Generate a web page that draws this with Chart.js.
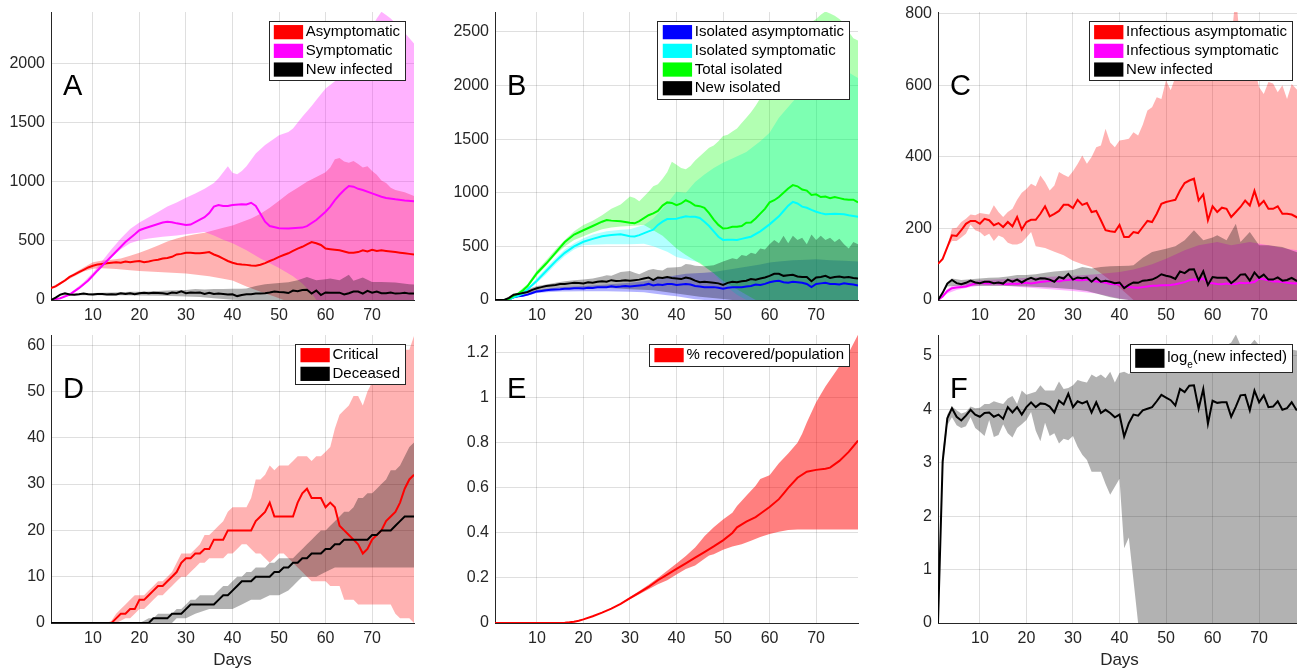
<!DOCTYPE html>
<html>
<head>
<meta charset="utf-8">
<script src="https://cdn.jsdelivr.net/npm/chart.js@4.4.1/dist/chart.umd.min.js"></script>
<style>
  html, body { margin: 0; padding: 0; background: #fff; }
  #fig { position: relative; width: 1297px; height: 671px; overflow: hidden; }
  #fig canvas { position: absolute; }
</style>
</head>
<body>
<div id="fig">
  <canvas id="pA"></canvas>
  <canvas id="pB"></canvas>
  <canvas id="pC"></canvas>
  <canvas id="pD"></canvas>
  <canvas id="pE"></canvas>
  <canvas id="pF"></canvas>
</div>
<script>
//Axis ticks
var dayTicks = [10, 20, 30, 40, 50, 60, 70];
var aYTicks = [0, 500, 1000, 1500, 2000];
var bYTicks = [0, 500, 1000, 1500, 2000, 2500];
var cYTicks = [0, 200, 400, 600, 800];
var dYTicks = [0, 10, 20, 30, 40, 50, 60];
var eYTicks = [0, 0.2, 0.4, 0.6, 0.8, 1, 1.2];
var fYTicks = [0, 1, 2, 3, 4, 5];

//Legend labels
var aLabels = ['Asymptomatic', 'Symptomatic', 'New infected'];
var bLabels = ['Isolated asymptomatic', 'Isolated symptomatic', 'Total isolated', 'New isolated'];
var cLabels = ['Infectious asymptomatic', 'Infectious symptomatic', 'New infected'];
var dLabels = ['Critical', 'Deceased'];
var eLabels = ['% recovered/population'];
var fLabels = ['log_e(new infected)'];

//New infected per day (used in A and C)
var newInfected = [0,20,46,56,47,44,48,54,49,47,51,51,47,49,46,57,51,57,49,57,62,57,61,60,57,51,64,60,73,57,63,61,63,51,62,51,54,51,47,49,33,42,49,48,54,55,57,63,72,68,65,59,80,75,85,86,55,80,42,64,62,62,62,47,57,71,72,54,77,62,71,57,57,63,54,56,62,54,55];
var newUp = [[1,0],[2,25],[3,50],[4,60],[6,56],[8,58],[10,60],[12,62],[14,63],[16,66],[18,70],[20,70],[22,72],[24,76],[26,80],[28,82],[30,84],[32,92],[34,88],[36,92],[38,94],[40,95],[42,96],[43,97],[45,118],[47,134],[50,143],[52,150],[54,167],[56,195],[58,167],[60,175],[61,181],[63,167],[65,213],[66,162],[68,190],[70,153],[72,153],[75,148],[78,134],[79,130]];
var newLo = [[1,0],[3,38],[5,40],[10,40],[15,40],[20,38],[25,35],[30,30],[33,25],[36,15],[38,8],[40,3],[42,0],[79,0]];

//Panel A
var aRed = [100,115,140,165,195,215,235,255,275,290,300,305,310,315,320,315,325,320,325,330,320,325,335,340,350,355,365,385,390,400,400,395,395,400,405,385,370,350,330,315,305,300,297,292,290,298,312,330,345,365,380,395,415,435,450,470,490,480,465,435,430,425,420,410,400,400,405,420,410,425,415,420,415,410,405,400,395,390,385];
var aRedUp = [[1,107],[3,150],[5,205],[8,275],[10,320],[12,335],[14,340],[16,350],[18,375],[20,400],[22,430],[24,460],[26,495],[28,520],[30,541],[32,555],[34,568],[36,590],[38,610],[40,630],[42,660],[44,690],[46,730],[48,780],[50,840],[52,900],[54,950],[56,1000],[58,1040],[60,1080],[61,1120],[62,1190],[63,1200],[64,1170],[65,1160],[66,1175],[67,1150],[68,1120],[69,1130],[70,1090],[71,1060],[72,1010],[73,990],[74,950],[75,930],[77,910],[79,880]];
var aRedLo = [[1,95],[3,130],[5,180],[8,240],[10,265],[12,268],[15,262],[18,252],[20,245],[25,235],[30,225],[35,200],[38,180],[40,165],[43,115],[46,70],[49,30],[51,0],[79,0]];
var aMag = [[1,0],[3,15],[5,45],[7,100],[9,165],[11,250],[13,330],[15,410],[17,490],[19,555],[20,590],[21,605],[23,630],[25,655],[26,662],[27,658],[28,648],[30,634],[31,638],[33,680],[34,700],[35,735],[36,790],[37,803],[38,795],[39,795],[40,803],[42,810],[43,808],[44,822],[45,795],[46,730],[47,662],[48,625],[50,606],[52,605],[55,612],[56,625],[58,676],[60,746],[61,790],[62,845],[63,890],[64,930],[65,963],[66,958],[67,940],[68,930],[70,901],[72,873],[73,862],[75,851],[77,842],[79,835]];
var aMagUp = [[1,0],[3,20],[5,55],[8,150],[10,230],[12,330],[14,430],[16,520],[18,600],[20,655],[22,700],[24,745],[26,790],[28,825],[30,865],[32,900],[34,940],[36,990],[37,1030],[38,1080],[39,1130],[40,1075],[41,1063],[42,1090],[43,1130],[45,1238],[47,1310],[48,1337],[50,1393],[52,1420],[53,1450],[55,1549],[57,1640],[58,1690],[60,1788],[62,1850],[64,1901],[65,1960],[67,2085],[69,2220],[70,2310],[71,2380],[72,2437],[73,2410],[74,2380],[75,2339],[77,2260],[79,2169]];
var aMagLo = [[1,0],[5,35],[8,120],[10,190],[12,280],[14,360],[16,430],[18,480],[20,505],[22,520],[25,535],[28,545],[30,555],[34,575],[36,545],[38,510],[40,480],[43,420],[46,350],[48,310],[50,270],[53,200],[55,140],[57,60],[58,0],[79,0]];

//Panel B
var bBlue = [0,0,0,5,25,35,40,50,65,80,85,90,95,98,100,105,105,110,110,108,115,112,118,120,118,128,122,125,130,125,130,135,140,150,135,145,140,150,150,140,145,148,145,130,125,120,118,120,115,105,115,118,120,118,125,130,145,140,150,165,175,180,165,160,170,165,160,150,120,150,155,160,150,150,145,155,150,145,135];
var bBlueUp = [[1,0],[3,0],[4,8],[5,30],[6,42],[8,62],[10,95],[12,105],[15,118],[20,130],[25,145],[30,160],[33,175],[35,190],[38,215],[40,230],[42,245],[44,250],[46,255],[48,262],[50,275],[52,290],[55,310],[58,330],[60,350],[62,360],[65,370],[68,375],[70,380],[73,370],[76,365],[79,360]];
var bBlueLo = [[1,0],[3,0],[4,2],[5,18],[6,28],[8,40],[10,65],[12,72],[15,80],[20,82],[25,82],[30,78],[33,72],[35,60],[38,45],[40,35],[42,20],[44,8],[46,0],[79,0]];
var bCyan = [[1,0],[3,0],[4,5],[5,25],[6,40],[7,60],[8,100],[10,180],[12,270],[14,360],[15,400],[16,440],[18,500],[20,543],[22,570],[24,595],[26,605],[28,612],[30,595],[31,592],[32,605],[34,640],[35,655],[36,700],[37,730],[38,755],[40,758],[41,770],[42,780],[43,775],[44,775],[45,765],[46,730],[47,690],[48,640],[49,590],[50,560],[51,562],[52,562],[53,560],[54,570],[55,580],[56,590],[58,640],[60,705],[62,780],[63,830],[64,880],[65,915],[66,900],[67,870],[68,860],[69,840],[70,823],[71,810],[72,800],[74,805],[76,800],[77,790],[79,775]];
var bCyanUp = [[1,0],[3,0],[4,6],[5,30],[6,48],[8,110],[10,205],[12,300],[14,390],[16,470],[18,530],[20,575],[22,610],[25,640],[28,655],[30,660],[33,700],[35,760],[38,900],[40,1010],[42,1000],[44,1100],[46,1170],[48,1230],[50,1280],[52,1320],[55,1380],[58,1480],[60,1560],[62,1700],[64,1800],[66,1900],[68,1990],[70,2100],[72,2150],[75,2150],[77,2120],[79,2070]];
var bCyanLo = [[1,0],[3,0],[4,3],[5,20],[6,32],[8,90],[10,160],[12,240],[14,330],[16,410],[18,470],[20,510],[22,515],[25,520],[30,520],[33,525],[35,500],[38,450],[40,400],[43,370],[45,350],[48,250],[50,150],[53,50],[55,0],[79,0]];
var bGreen = [[1,0],[3,0],[4,10],[5,40],[6,60],[7,90],[8,130],[10,250],[12,340],[14,440],[15,490],[16,540],[18,610],[20,650],[22,690],[24,730],[25,745],[26,740],[28,735],[30,720],[31,715],[32,735],[34,790],[35,807],[36,830],[37,880],[38,910],[39,905],[40,885],[41,900],[42,930],[43,910],[44,880],[45,875],[46,860],[47,810],[48,750],[49,700],[50,667],[51,670],[52,683],[53,683],[54,690],[55,720],[56,722],[57,760],[58,805],[59,850],[60,910],[61,930],[62,960],[63,1000],[64,1040],[65,1071],[66,1060],[67,1030],[68,1020],[69,980],[70,985],[71,960],[72,965],[73,950],[74,960],[75,950],[76,940],[77,935],[78,935],[79,910]];
var bGreenUp = [[1,0],[3,0],[4,12],[5,48],[6,75],[8,150],[10,275],[12,370],[14,470],[16,560],[18,640],[20,700],[22,740],[24,790],[26,850],[28,890],[30,965],[31,950],[32,920],[34,1010],[35,1060],[36,1080],[37,1130],[38,1190],[39,1290],[40,1260],[41,1230],[42,1220],[43,1250],[44,1300],[45,1340],[46,1380],[47,1420],[48,1440],[49,1480],[50,1530],[51,1540],[52,1570],[53,1600],[54,1650],[55,1700],[56,1750],[57,1810],[58,1880],[59,1950],[60,2020],[61,2100],[62,2180],[63,2250],[64,2320],[65,2400],[66,2460],[67,2520],[68,2550],[69,2590],[70,2620],[71,2660],[72,2690],[73,2670],[74,2650],[75,2620],[76,2580],[77,2500],[78,2440],[79,2420]];
var bGreenLo = [[1,0],[3,0],[4,8],[5,32],[6,50],[8,115],[10,225],[12,320],[14,420],[16,500],[18,560],[20,595],[22,630],[24,660],[26,675],[28,685],[30,690],[33,700],[35,650],[37,600],[38,560],[40,480],[42,420],[45,340],[48,250],[50,180],[53,100],[55,50],[57,0],[79,0]];
var bNew = [0,0,0,20,50,55,65,75,95,110,120,130,135,140,150,150,155,160,158,155,165,160,170,175,170,185,178,180,185,180,185,190,200,210,185,210,205,215,205,200,195,210,200,180,165,170,165,160,155,140,160,170,165,175,180,195,190,200,210,225,245,245,225,230,235,220,215,215,175,210,215,225,205,215,220,210,215,205,200];
var bNewUp = [[1,0],[3,0],[4,15],[5,50],[6,65],[8,100],[10,130],[12,145],[14,160],[16,175],[18,185],[20,190],[22,200],[24,220],[25,230],[26,225],[28,260],[30,270],[31,255],[32,240],[34,280],[35,290],[36,280],[37,275],[38,300],[40,305],[41,310],[42,335],[43,330],[44,320],[46,315],[48,325],[50,360],[52,390],[53,380],[54,420],[55,410],[56,440],[57,430],[58,480],[59,470],[60,520],[61,560],[62,530],[63,600],[64,530],[65,600],[66,560],[67,580],[68,520],[69,610],[70,560],[71,600],[72,560],[73,580],[74,540],[75,570],[76,520],[77,480],[78,540],[79,520]];
var bNewLo = [[1,0],[3,0],[4,5],[5,35],[6,45],[8,60],[10,85],[12,95],[15,110],[20,115],[25,115],[30,100],[35,90],[40,60],[45,30],[50,10],[52,0],[79,0]];

//Panel C
var cRed = [101,115,148,181,179,195,213,221,221,213,227,223,209,215,204,218,206,232,197,218,224,224,241,262,234,241,249,266,266,257,280,266,271,246,249,223,195,192,190,210,176,176,190,187,204,221,218,241,269,274,277,280,306,327,334,339,278,295,223,262,246,258,255,232,246,260,278,264,305,264,277,255,255,262,241,241,239,232,225];
var cRedUp = [[1,101],[2,118],[3,150],[4,200],[5,202],[6,218],[7,227],[8,239],[9,237],[10,243],[11,241],[12,239],[13,265],[14,246],[15,232],[16,246],[17,255],[18,280],[19,300],[20,310],[21,325],[22,318],[23,348],[24,330],[25,306],[26,320],[27,358],[28,350],[29,344],[30,360],[31,380],[32,404],[33,381],[34,400],[35,427],[36,432],[37,479],[38,440],[39,427],[40,446],[41,448],[42,451],[43,469],[44,460],[45,490],[46,530],[47,539],[48,567],[49,562],[50,614],[51,586],[52,623],[53,640],[54,660],[55,680],[56,700],[57,610],[58,650],[59,640],[60,690],[61,700],[62,720],[63,700],[64,720],[65,860],[66,700],[67,680],[68,690],[69,650],[70,595],[71,576],[72,609],[73,605],[74,581],[75,600],[76,562],[77,604],[78,590],[79,575]];
var cRedLo = [[1,100],[2,112],[3,145],[4,165],[5,165],[6,175],[7,185],[8,210],[9,195],[10,190],[11,178],[12,185],[13,165],[14,180],[15,175],[16,160],[17,155],[18,155],[19,160],[20,175],[21,190],[22,150],[24,145],[26,135],[28,125],[30,110],[32,100],[34,92],[36,75],[38,55],[40,35],[42,12],[43,0],[79,0]];
var cMag = [0,10,25,33,35,36,38,42,46,48,47,46,48,47,45,44,46,45,47,48,46,48,50,52,53,54,52,55,56,58,55,55,57,54,52,50,48,45,44,43,38,36,35,34,36,38,40,40,41,41,42,44,47,50,55,58,56,60,48,47,45,44,46,44,45,48,47,48,50,60,58,55,52,52,50,48,47,46,46];
var cMagUp = [[1,0],[2,15],[3,30],[4,40],[6,45],[8,52],[10,55],[15,58],[20,62],[25,65],[30,68],[35,72],[40,78],[43,85],[45,92],[47,100],[50,115],[54,139],[57,153],[61,162],[64,153],[68,162],[72,153],[76,143],[79,138]];
var cMagLo = [[1,0],[3,18],[5,28],[8,36],[10,40],[15,40],[20,35],[25,30],[30,25],[35,18],[38,10],[40,4],[42,0],[79,0]];

//Panel D
var dCrit = [0,0,0,0,0,0,0,0,0,0,0,0,0,0,1,2,2,3,3,5,5,6,7,8,8,9,10,11,13,14,14,15,15,16,16,18,18,18,20,20,20,20,20,20,22,23,24,26,23,23,23,23,23,26,28,29,27,27,27,25,26,25,21,20,19,18,17,15,16,18,19,20,22,23,24,26,29,31,32];
var dCritUp = [[1,0],[13,0],[14,0.5],[15,2],[16,3],[17,4],[18,5],[19,6],[21,6],[22,7],[23,8],[24,9],[25,9],[26,10],[27,11],[28,13],[29,15],[31,15],[32,16],[33,17],[34,19],[35,19],[36,20],[37,21],[38,22],[39,24],[40,25],[43,25],[44,27],[45,31],[46,31],[47,32],[48,34],[49,33],[50,34],[52,34],[53,35],[54,36],[56,36],[57,35],[58,36],[59,36],[60,37],[61,38],[62,42],[63,45],[64,46],[65,47],[66,49],[67,49],[68,47],[69,50],[70,52],[71,53],[72,54],[73,55],[74,56],[75,57],[76,58],[77,59],[78,59],[79,62]];
var dCritLo = [[1,0],[15,0],[16,0.5],[17,1],[18,1],[19,2],[20,3],[21,3],[22,4],[23,5],[24,6],[25,6],[26,7],[27,8],[28,9],[29,10],[30,10],[31,11],[32,12],[33,13],[34,13],[35,14],[38,14],[39,15],[40,15],[41,16],[42,17],[43,17],[44,16],[45,15],[46,15],[47,14],[48,13],[49,14],[50,15],[51,15],[52,14],[53,13],[54,12],[55,11],[56,10],[57,9],[60,9],[61,8],[63,8],[64,5],[66,5],[67,4],[74,4],[75,2],[76,1],[78,1],[79,0]];
var dDead = [0,0,0,0,0,0,0,0,0,0,0,0,0,0,0,0,0,0,0,0,0,0,1,1,1,1,2,2,2,3,4,4,4,4,4,4,5,6,6,7,8,9,9,9,10,10,10,10,11,11,12,12,13,13,14,14,15,15,15,16,16,17,17,18,18,18,18,18,18,19,19,20,20,20,21,22,23,23,23];
var dDeadUp = [[1,0],[20,0],[21,0.5],[22,1],[23,1],[24,2],[27,2],[28,3],[29,3],[30,4],[31,5],[32,5],[33,6],[36,6],[37,7],[38,8],[39,8],[40,9],[41,10],[42,10],[43,11],[44,11],[45,12],[47,12],[48,13],[49,13],[50,14],[53,14],[54,15],[55,16],[56,17],[57,18],[58,19],[59,20],[60,20],[61,21],[62,22],[63,23],[64,24],[65,24],[66,25],[67,27],[68,27],[69,28],[70,28],[71,29],[72,30],[73,31],[74,33],[75,33],[76,34],[77,36],[78,38],[79,39]];
var dDeadLo = [[1,0],[27,0],[28,1],[30,1],[32,2],[35,3],[40,3],[42,4],[44,5],[46,5],[48,6],[50,6],[52,7],[53,8],[54,9],[55,10],[58,10],[60,11],[62,12],[79,12]];

//Panel E
var eRec = [[1,0],[15,0],[16,0.001],[17,0.003],[18,0.006],[19,0.01],[20,0.016],[22,0.03],[24,0.046],[26,0.064],[28,0.085],[30,0.11],[32,0.135],[34,0.16],[36,0.19],[38,0.215],[40,0.24],[42,0.265],[44,0.29],[46,0.315],[48,0.34],[50,0.367],[52,0.4],[53,0.425],[55,0.45],[57,0.47],[58,0.485],[60,0.515],[62,0.55],[63,0.575],[64,0.6],[66,0.645],[68,0.672],[70,0.68],[72,0.685],[73,0.69],[75,0.72],[77,0.76],[79,0.81]];
var eRecUp = [[1,0],[15,0],[20,0.017],[25,0.056],[28,0.087],[30,0.115],[32,0.142],[34,0.17],[36,0.2],[38,0.232],[40,0.264],[42,0.298],[44,0.335],[45,0.36],[46,0.385],[48,0.425],[50,0.46],[52,0.49],[53,0.52],[55,0.565],[57,0.61],[58,0.64],[60,0.656],[62,0.71],[64,0.753],[66,0.8],[67,0.84],[68,0.89],[70,0.98],[72,1.05],[73,1.08],[75,1.14],[77,1.2],[79,1.28]];
var eRecLo = [[1,0],[15,0],[20,0.015],[25,0.054],[28,0.083],[30,0.105],[32,0.128],[34,0.15],[36,0.172],[38,0.19],[40,0.215],[42,0.24],[44,0.255],[46,0.285],[47,0.3],[48,0.305],[50,0.325],[52,0.34],[54,0.35],[56,0.365],[58,0.382],[60,0.395],[62,0.405],[64,0.413],[66,0.415],[79,0.415]];

//Panel F
var fLog = [0,3.02,3.83,4.02,3.86,3.79,3.88,3.99,3.90,3.86,3.93,3.94,3.86,3.90,3.82,4.04,3.94,4.04,3.90,4.04,4.13,4.04,4.11,4.10,4.05,3.94,4.16,4.09,4.29,4.04,4.15,4.11,4.15,3.94,4.13,3.93,3.99,3.93,3.85,3.90,3.49,3.74,3.90,3.88,3.98,4.01,4.04,4.15,4.27,4.22,4.17,4.07,4.38,4.32,4.44,4.45,4.01,4.38,3.73,4.16,4.12,4.13,4.13,3.86,4.05,4.26,4.27,3.98,4.35,4.13,4.26,4.04,4.05,4.15,3.99,4.02,4.13,3.99,4.00];
var fLogUp = [0,3.2,3.9,4.05,3.98,3.92,3.95,4.05,4.02,4.03,4.1,4.1,4.15,4.12,4.1,4.2,4.25,4.1,4.35,4.27,4.3,4.33,4.45,4.35,4.35,4.35,4.52,4.38,4.4,4.45,4.55,4.52,4.5,4.65,4.6,4.65,4.58,4.7,4.5,4.68,4.7,4.66,4.7,4.75,4.8,4.78,4.85,4.9,4.85,4.95,5.0,4.98,5.05,5.1,5.08,5.15,5.1,5.12,5.05,5.1,5.15,5.12,5.2,5.25,5.4,5.2,5.15,5.2,5.3,5.2,5.15,5.22,5.18,5.1,5.15,5.2,5.12,5.1,5.1];
var fLogLo = [0,2.9,3.7,3.85,3.7,3.65,3.68,3.85,3.65,3.58,3.5,3.8,3.48,3.52,3.72,3.55,3.47,3.65,3.72,3.8,3.95,3.6,3.4,3.75,3.5,3.55,3.36,3.45,3.42,3.5,3.3,3.15,3.05,2.83,2.83,2.83,2.6,2.4,2.55,2.7,1.4,1.6,0.8,0,0,0,0,0,0,0,0,0,0,0,0,0,0,0,0,0,0,0,0,0,0,0,0,0,0,0,0,0,0,0,0,0,0,0,0];

var FONT = '"Liberation Sans", Arial, sans-serif';
var INK = '#262626';

function perDay(vals) {
  return vals.map(function (v, i) { return {x: i + 1, y: v}; });
}
function pairs(arr) {
  return arr.map(function (p) { return {x: p[0], y: p[1]}; });
}
function line(data, color) {
  return {data: data, borderColor: color, borderWidth: 2, pointRadius: 0, fill: false, tension: 0};
}
function band(up, lo, color) {
  return [
    {data: up, borderColor: 'transparent', borderWidth: 0, pointRadius: 0, backgroundColor: color, fill: '+1'},
    {data: lo, borderColor: 'transparent', borderWidth: 0, pointRadius: 0, fill: false}
  ];
}

//label with an optional "_x" subscript
function splitLabel(s) {
  var i = s.indexOf('_');
  if (i < 0) return [s, '', ''];
  return [s.slice(0, i), s.charAt(i + 1), s.slice(i + 2)];
}
function labelWidth(ctx, s) {
  var p = splitLabel(s), w = 0;
  ctx.font = '15px ' + FONT;
  w += ctx.measureText(p[0]).width + ctx.measureText(p[2]).width;
  ctx.font = '10px ' + FONT;
  w += ctx.measureText(p[1]).width;
  return w;
}
function drawLabel(ctx, s, x, y) {
  var p = splitLabel(s);
  ctx.font = '15px ' + FONT;
  ctx.fillText(p[0], x, y);
  x += ctx.measureText(p[0]).width;
  if (p[1]) {
    ctx.font = '10px ' + FONT;
    ctx.fillText(p[1], x, y + 7);
    x += ctx.measureText(p[1]).width;
    ctx.font = '15px ' + FONT;
    ctx.fillText(p[2], x, y - 1);
  }
}

//panel letter and boxed legend
var deco = {
  id: 'deco',
  afterDraw: function (chart, args, o) {
    var ctx = chart.ctx, a = chart.chartArea;
    ctx.save();
    ctx.fillStyle = '#000';
    ctx.textAlign = 'left';
    ctx.textBaseline = 'alphabetic';
    ctx.font = '29px ' + FONT;
    ctx.fillText(o.letter, a.left + 12, a.top + o.letterY);

    var rowH = o.rowH || 18.7;
    var swH = rowH * 0.76;
    var textW = 0;
    o.labels.forEach(function (s) { textW = Math.max(textW, labelWidth(ctx, s)); });
    var w = 5.3 + 29.3 + 2.7 + textW + 5;
    var h = o.labels.length * rowH + 3;
    var right = a.right - 9, top = a.top + 9.3;
    var left = right - w;
    ctx.fillStyle = '#fff';
    ctx.fillRect(left, top, w, h);
    ctx.strokeStyle = INK;
    ctx.lineWidth = 1;
    ctx.strokeRect(Math.round(left) + 0.5, Math.round(top) + 0.5, Math.round(w), Math.round(h));
    ctx.textBaseline = 'middle';
    o.labels.forEach(function (s, i) {
      var cy = top + 1.5 + rowH * (i + 0.5);
      ctx.fillStyle = o.colors[i];
      ctx.fillRect(left + 5.3, cy - swH / 2, 29.3, swH);
      ctx.fillStyle = '#000';
      drawLabel(ctx, s, left + 37.3, cy);
    });
    ctx.restore();
  }
};

function makePanel(id, box, yMax, yTicks, datasets, deco_opts, xTitle) {
  var l = box[0], t = box[1], r = box[2], b = box[3];
  var xH = t > 100 ? 48 : 26;
  var W = 50 + (r - l) + 8, H = 8 + (b - t) + xH;
  var cv = document.getElementById(id);
  cv.width = W;
  cv.height = H;
  cv.style.left = (l - 50) + 'px';
  cv.style.top = (t - 8) + 'px';
  cv.style.width = W + 'px';
  cv.style.height = H + 'px';

  var gridOpts = {color: 'rgba(38,38,38,0.15)', lineWidth: 1, drawTicks: false};
  var tickFont = {family: FONT, size: 16};

  return new Chart(cv, {
    type: 'line',
    data: {datasets: datasets},
    plugins: [deco],
    options: {
      responsive: false,
      animation: false,
      devicePixelRatio: 1,
      events: [],
      layout: {padding: {left: 0, top: 8, right: 8, bottom: 0}},
      scales: {
        x: {
          type: 'linear', min: 1, max: 79,
          afterBuildTicks: function (s) { s.ticks = dayTicks.map(function (v) { return {value: v}; }); },
          afterFit: function (s) {
            s.height = xH;
            s.paddingLeft = 0; s.paddingRight = 0; s.paddingTop = 0; s.paddingBottom = 0;
          },
          grid: gridOpts,
          border: {display: true, color: INK, width: 1},
          ticks: {color: INK, font: tickFont, padding: 6, maxRotation: 0, autoSkip: false,
            callback: function (v) { return String(v); }},
          title: {display: !!xTitle, text: xTitle || '', color: INK, font: {family: FONT, size: 17}, padding: 0}
        },
        y: {
          type: 'linear', min: 0, max: yMax,
          afterBuildTicks: function (s) { s.ticks = yTicks.map(function (v) { return {value: v}; }); },
          afterFit: function (s) {
            s.width = 50;
            s.paddingLeft = 0; s.paddingRight = 0; s.paddingTop = 0; s.paddingBottom = 0;
          },
          grid: gridOpts,
          border: {display: true, color: INK, width: 1},
          ticks: {color: INK, font: tickFont, padding: 6, autoSkip: false,
            callback: function (v) { return String(v); }}
        }
      },
      plugins: {
        legend: {display: false},
        tooltip: {enabled: false},
        filler: {drawTime: 'beforeDatasetsDraw'},
        deco: deco_opts
      }
    }
  });
}

var RED = '#ff0000', MAG = '#ff00ff', BLK = '#000000', BLUE = '#0000ff', CYAN = '#00ffff', GRN = '#00ff00';

//A
makePanel('pA', [51, 12, 414, 300], 2435, aYTicks, [
  line(perDay(newInfected), BLK),
  line(pairs(aMag), MAG),
  line(perDay(aRed), RED)
].concat(
  band(pairs(newUp), pairs(newLo), 'rgba(0,0,0,0.3)'),
  band(pairs(aMagUp), pairs(aMagLo), 'rgba(255,0,255,0.3)'),
  band(pairs(aRedUp), pairs(aRedLo), 'rgba(255,0,0,0.3)')
), {letter: 'A', letterY: 83, labels: aLabels, colors: [RED, MAG, BLK]});

//B
makePanel('pB', [495, 12, 858, 300], 2685, bYTicks, [
  line(perDay(bNew), BLK),
  line(pairs(bGreen), GRN),
  line(pairs(bCyan), CYAN),
  line(perDay(bBlue), BLUE)
].concat(
  band(pairs(bNewUp), pairs(bNewLo), 'rgba(0,0,0,0.3)'),
  band(pairs(bGreenUp), pairs(bGreenLo), 'rgba(0,255,0,0.3)'),
  band(pairs(bCyanUp), pairs(bCyanLo), 'rgba(0,255,255,0.3)'),
  band(pairs(bBlueUp), pairs(bBlueLo), 'rgba(0,0,255,0.3)')
), {letter: 'B', letterY: 83, labels: bLabels, colors: [BLUE, CYAN, GRN, BLK]});

//C
makePanel('pC', [938, 12, 1301, 300], 805, cYTicks, [
  line(perDay(newInfected), BLK),
  line(perDay(cMag), MAG),
  line(perDay(cRed), RED)
].concat(
  band(pairs(newUp), pairs(newLo), 'rgba(0,0,0,0.3)'),
  band(pairs(cMagUp), pairs(cMagLo), 'rgba(255,0,255,0.3)'),
  band(pairs(cRedUp), pairs(cRedLo), 'rgba(255,0,0,0.3)')
), {letter: 'C', letterY: 83, labels: cLabels, colors: [RED, MAG, BLK]});

//D
makePanel('pD', [51, 335, 414, 623], 62.2, dYTicks, [
  line(perDay(dDead), BLK),
  line(perDay(dCrit), RED)
].concat(
  band(pairs(dDeadUp), pairs(dDeadLo), 'rgba(0,0,0,0.3)'),
  band(pairs(dCritUp), pairs(dCritLo), 'rgba(255,0,0,0.3)')
), {letter: 'D', letterY: 63.3, labels: dLabels, colors: [RED, BLK]}, 'Days');

//E
makePanel('pE', [495, 335, 858, 623], 1.279, eYTicks, [
  line(pairs(eRec), RED)
].concat(
  band(pairs(eRecUp), pairs(eRecLo), 'rgba(255,0,0,0.5)')
), {letter: 'E', letterY: 63.3, labels: eLabels, colors: [RED]});

//F
makePanel('pF', [938, 335, 1301, 623], 5.39, fYTicks, [
  line(perDay(fLog), BLK)
].concat(
  band(perDay(fLogUp), perDay(fLogLo), 'rgba(0,0,0,0.3)')
), {letter: 'F', letterY: 63.3, labels: fLabels, colors: [BLK], rowH: 25}, 'Days');
</script>
</body>
</html>
